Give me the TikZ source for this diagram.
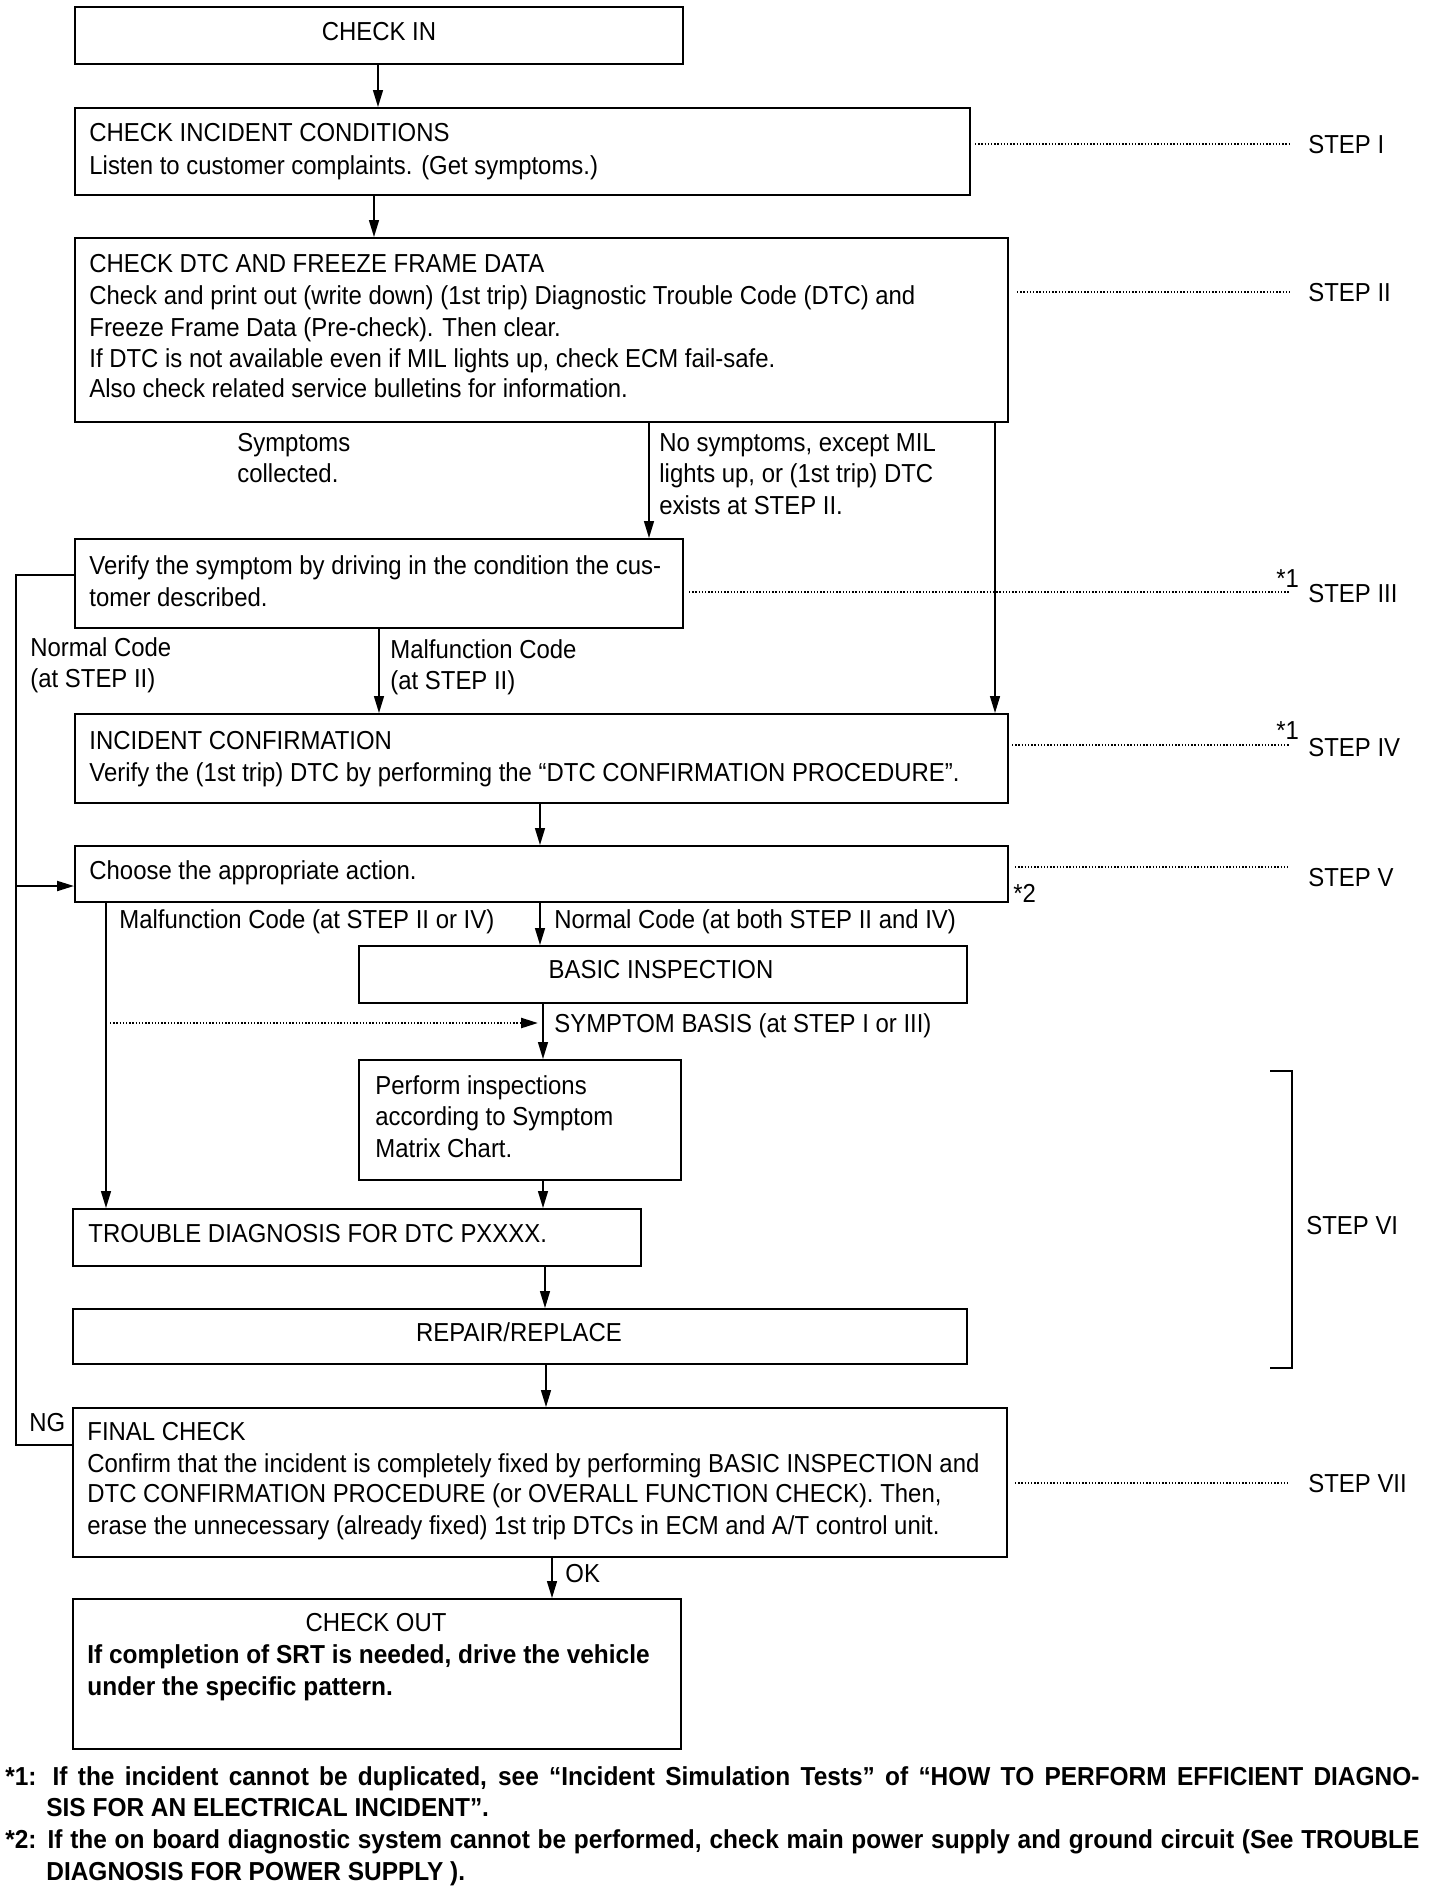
\documentclass[tikz,border=0pt]{standalone}
\usepackage{fontspec}
\setmainfont{Liberation Sans}[FakeStretch=0.92]
\newfontfamily\fnfont{Liberation Sans}[FakeStretch=0.94]
\usetikzlibrary{arrows.meta}
\tikzset{
  box/.style={draw, line width=1pt, anchor=north west, inner sep=0pt},
  tx/.style={anchor=west, inner sep=0pt, text height=9.3pt, text depth=0pt},
  arr/.style={line width=0.7pt, -{Triangle[length=8.5pt,width=5pt]}},
  dots/.style={line width=1.2pt, dash pattern=on 0.7pt off 0.9pt},
}
\newcommand\mybox[5]{\node[box, minimum width={(#4-#2)*0.5pt}, minimum height={(#5-#3)*0.5pt}] (#1) at (#2,#3) {};}
\begin{document}
\begin{tikzpicture}[x=0.5pt,y=-0.5pt, font=\fontsize{13}{16}\selectfont]
\useasboundingbox (0,0) rectangle (1440,1890);
% boxes
\mybox{checkin}{74}{6}{682}{63}
\mybox{incident}{74}{107}{969}{194}
\mybox{dtc}{74}{237}{1007}{421}
\mybox{verify}{74}{538}{682}{627}
\mybox{conf}{74}{713}{1007}{802}
\mybox{choose}{74}{845}{1007}{901}
\mybox{basic}{358}{945}{966}{1002}
\mybox{perform}{358}{1059}{680}{1179}
\mybox{trouble}{72}{1208}{640}{1265}
\mybox{repair}{72}{1308}{966}{1363}
\mybox{final}{72}{1407}{1006}{1556}
\mybox{checkout}{72}{1598}{680}{1748}
% box texts
\node[tx, anchor=center] (t1) at (379,31) {CHECK IN};
\node[tx] (t2a) at (89,132) {CHECK INCIDENT CONDITIONS};
\node[tx] (t2b) at (89,165) {Listen to customer complaints. (Get symptoms.)};
\node[tx] (t3a) at (89,263) {CHECK DTC AND FREEZE FRAME DATA};
\node[tx] (t3b) at (89,295) {Check and print out (write down) (1st trip) Diagnostic Trouble Code (DTC) and};
\node[tx] (t3c) at (89,327) {Freeze Frame Data (Pre-check). Then clear.};
\node[tx] (t3d) at (89,358) {If DTC is not available even if MIL lights up, check ECM fail-safe.};
\node[tx] (t3e) at (89,388) {Also check related service bulletins for information.};
\node[tx] (t4a) at (89,565) {Verify the symptom by driving in the condition the cus-};
\node[tx] (t4b) at (89,597) {tomer described.};
\node[tx] (t5a) at (89,740) {INCIDENT CONFIRMATION};
\node[tx] (t5b) at (89,772) {Verify the (1st trip) DTC by performing the “DTC CONFIRMATION PROCEDURE”.};
\node[tx] (t6) at (89,870) {Choose the appropriate action.};
\node[tx, anchor=center] (t7) at (661,969) {BASIC INSPECTION};
\node[tx] (t8a) at (375,1085) {Perform inspections};
\node[tx] (t8b) at (375,1116) {according to Symptom};
\node[tx] (t8c) at (375,1148) {Matrix Chart.};
\node[tx] (t9) at (88,1233) {TROUBLE DIAGNOSIS FOR DTC PXXXX.};
\node[tx, anchor=center] (t10) at (519,1332) {REPAIR/REPLACE};
\node[tx] (t11a) at (87,1431) {FINAL CHECK};
\node[tx] (t11b) at (87,1463) {Confirm that the incident is completely fixed by performing BASIC INSPECTION and};
\node[tx] (t11c) at (87,1493) {DTC CONFIRMATION PROCEDURE (or OVERALL FUNCTION CHECK). Then,};
\node[tx] (t11d) at (87,1525) {erase the unnecessary (already fixed) 1st trip DTCs in ECM and A/T control unit.};
\node[tx, anchor=center] (t12a) at (376,1622) {CHECK OUT};
\node[tx] (t12b) at (87,1654) {\fnfont\bfseries If completion of SRT is needed, drive the vehicle};
\node[tx] (t12c) at (87,1686) {\fnfont\bfseries under the specific pattern.};
% connectors
\draw[arr] (checkin.south -| 378,0) -- (incident.north -| 378,0);
\draw[arr] (incident.south -| 374,0) -- (dtc.north -| 374,0);
\draw[arr] (dtc.south -| 649,0) -- (verify.north -| 649,0);
\draw[arr] (dtc.south -| 995,0) -- (conf.north -| 995,0);
\draw[arr] (verify.south -| 379,0) -- (conf.north -| 379,0);
\draw[arr] (conf.south -| 540,0) -- (choose.north -| 540,0);
\draw[arr] (choose.south -| 540,0) -- (basic.north -| 540,0);
\draw[arr] (choose.south -| 106,0) -- (trouble.north -| 106,0);
\draw[arr] (basic.south -| 543,0) -- (perform.north -| 543,0);
\draw[arr] (perform.south -| 543,0) -- (trouble.north -| 543,0);
\draw[arr] (trouble.south -| 545,0) -- (repair.north -| 545,0);
\draw[arr] (repair.south -| 546,0) -- (final.north -| 546,0);
\draw[arr] (final.south -| 552,0) -- (checkout.north -| 552,0);
\coordinate (lt) at (16,575);
\coordinate (lm) at (16,886);
\coordinate (lb) at (16,1445);
\draw[line width=1pt] (verify.west |- lt) -- (lt) -- (lm);
\draw[line width=1pt] (final.west |- lb) -- (lb) -- (lm);
\draw[arr, line width=1pt] (lm) -- (choose.west |- lm);
\coordinate (ds) at (110,1023);
\coordinate (de) at (538,1023);
\draw[dots, -{Triangle[length=8.5pt,width=5pt]}] (ds) -- (de);
% connector labels
\node[tx] (l1a) at (237,442) {Symptoms};
\node[tx] (l1b) at (237,473) {collected.};
\node[tx] (l2a) at (659,442) {No symptoms, except MIL};
\node[tx] (l2b) at (659,473) {lights up, or (1st trip) DTC};
\node[tx] (l2c) at (659,505) {exists at STEP II.};
\node[tx] (l3a) at (30,647) {Normal Code};
\node[tx] (l3b) at (30,678) {(at STEP II)};
\node[tx] (l4a) at (390,649) {Malfunction Code};
\node[tx] (l4b) at (390,680) {(at STEP II)};
\node[tx] (l5) at (119,919) {Malfunction Code (at STEP II or IV)};
\node[tx] (l6) at (554,919) {Normal Code (at both STEP II and IV)};
\node[tx] (l7) at (554,1023) {SYMPTOM BASIS (at STEP I or III)};
\node[tx] (l8) at (29,1422) {NG};
\node[tx] (l9) at (565,1573) {OK};
% steps
\coordinate (s1) at (1290,144);
\draw[dots] (incident.east |- s1) ++(4,0) -- (s1);
\node[tx] (st1) at (1308,144) {STEP I};
\coordinate (s2) at (1290,292);
\draw[dots] (dtc.east |- s2) ++(8,0) -- (s2);
\node[tx] (st2) at (1308,292) {STEP II};
\coordinate (s3) at (1290,592);
\draw[dots] (verify.east |- s3) ++(5,0) -- (s3);
\node[tx] (st3) at (1308,593) {STEP III};
\node[tx] (a1) at (1276,578) {*1};
\coordinate (s4) at (1290,745);
\draw[dots] (conf.east |- s4) ++(3,0) -- (s4);
\node[tx] (st4) at (1308,747) {STEP IV};
\node[tx] (a2) at (1276,730) {*1};
\coordinate (s5) at (1290,867);
\draw[dots] (choose.east |- s5) ++(6,0) -- (s5);
\node[tx] (st5) at (1308,877) {STEP V};
\node[tx] (a3) at (1013,893) {*2};
\coordinate (b1) at (1270,1071);
\coordinate (b2) at (1270,1368);
\draw[line width=1pt] (b1) -- (1292,1071) -- (1292,1368) -- (b2);
\node[tx] (st6) at (1306,1225) {STEP VI};
\coordinate (s7) at (1290,1483);
\draw[dots] (final.east |- s7) ++(7,0) -- (s7);
\node[tx] (st7) at (1308,1483) {STEP VII};
% footnotes
\node[tx] (f1) at (5,1776) {\fnfont\bfseries\makebox[707pt][s]{*1: If the incident cannot be duplicated, see “Incident Simulation Tests” of “HOW TO PERFORM EFFICIENT DIAGNO-}};
\node[tx] (f2) at (46,1807) {\fnfont\bfseries SIS FOR AN ELECTRICAL INCIDENT”.};
\node[tx] (f3) at (5,1839) {\fnfont\bfseries\makebox[707pt][s]{*2: If the on board diagnostic system cannot be performed, check main power supply and ground circuit (See TROUBLE}};
\node[tx] (f4) at (46,1871) {\fnfont\bfseries DIAGNOSIS FOR POWER SUPPLY ).};
\end{tikzpicture}
\end{document}
